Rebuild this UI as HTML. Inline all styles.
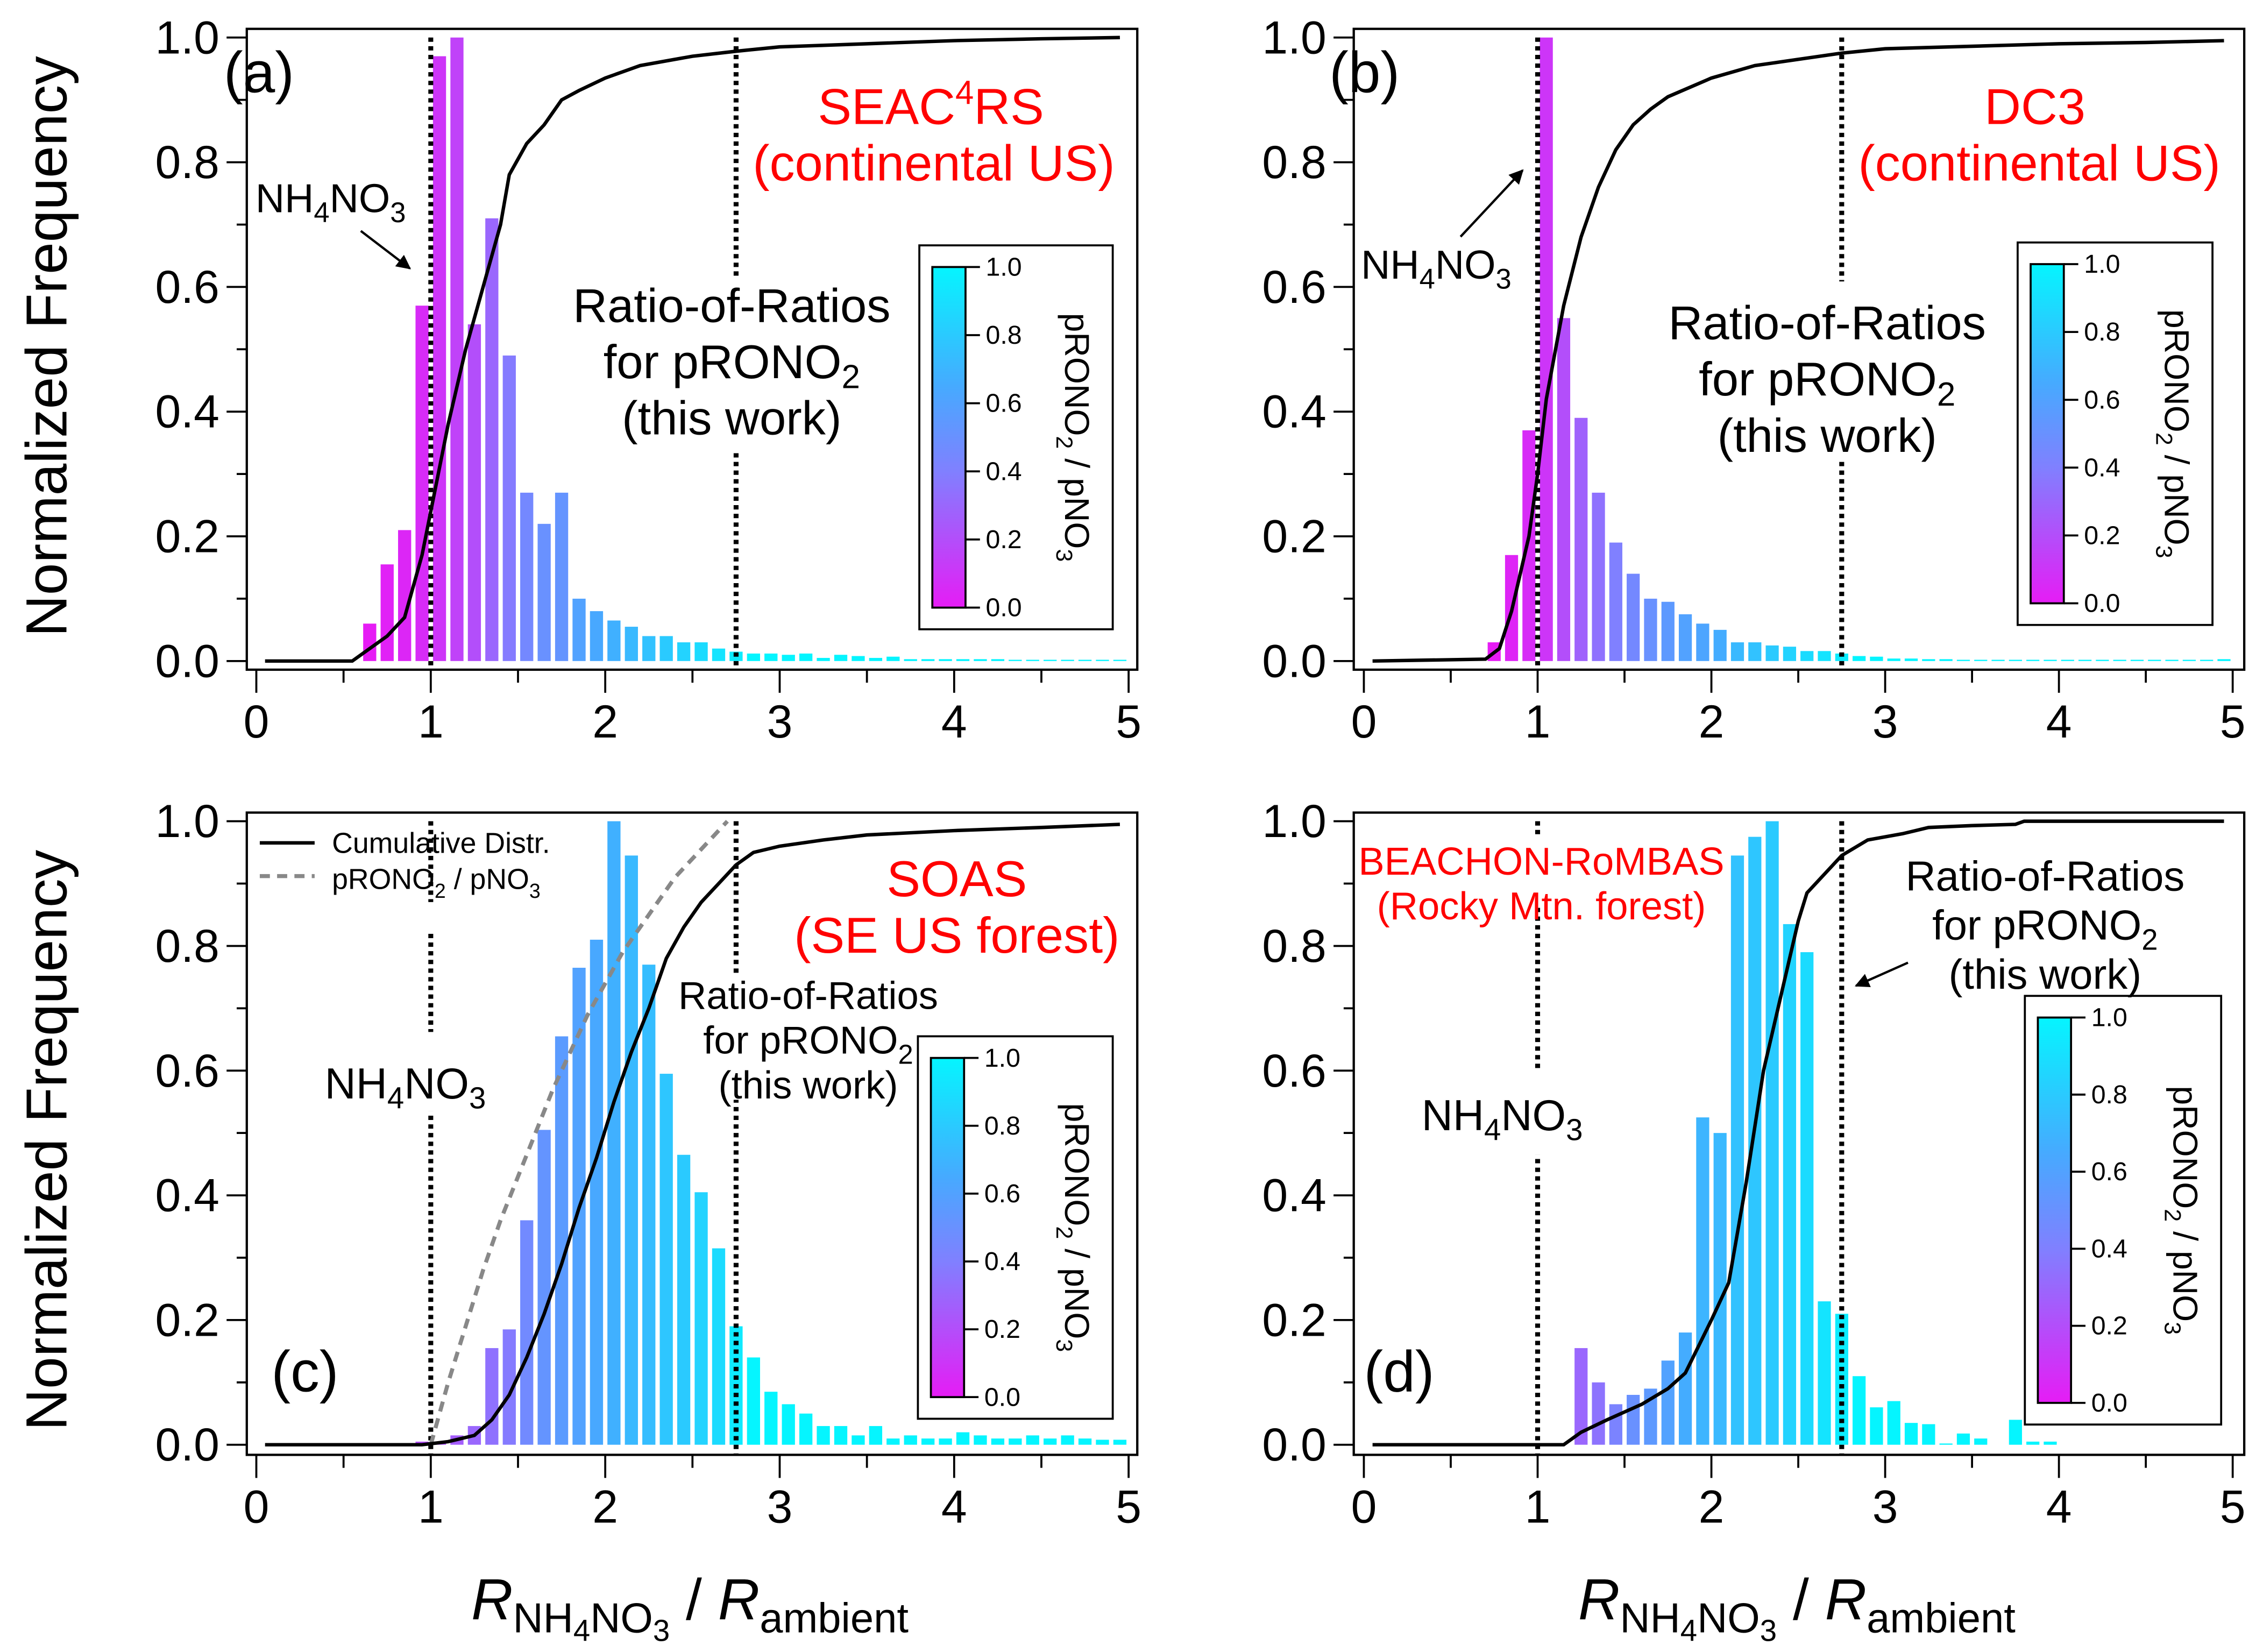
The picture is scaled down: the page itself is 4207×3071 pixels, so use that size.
<!DOCTYPE html>
<html><head><meta charset="utf-8"><style>
html,body{margin:0;padding:0;background:#fff;}
svg{display:block;font-family:"Liberation Sans",Arial,sans-serif;}
</style></head><body>
<svg id="fig" xmlns="http://www.w3.org/2000/svg" width="4207" height="3071" viewBox="0 0 1568 1144.6">
<rect x="0" y="0" width="1568" height="1144.6" fill="#fff"/>
<defs>
<linearGradient id="cbar" x1="0" y1="1" x2="0" y2="0">
<stop offset="0" stop-color="#e61cf5"/><stop offset="0.4" stop-color="#8080ff"/><stop offset="0.65" stop-color="#46aaff"/><stop offset="1" stop-color="#05f5ff"/>
</linearGradient>
<marker id="arr" markerWidth="10" markerHeight="10" refX="9" refY="5" orient="auto" markerUnits="userSpaceOnUse"><path d="M0,0 L10,5 L0,10 Z" fill="#000"/></marker>
</defs>
</svg>
<script>
// ---- data ----
const binCentersA=[0.65,0.75,0.85,0.95,1.05,1.15,1.25,1.35,1.45,1.55,1.65,1.75,1.85,1.95,2.05,2.15,2.25,2.35,2.45,2.55,2.65,2.75,2.85,2.95,3.05,3.15,3.25,3.35,3.45,3.55,3.65,3.75,3.85,3.95,4.05,4.15,4.25,4.35,4.45,4.55,4.65,4.75,4.85,4.95];
const freqA=[0.06,0.155,0.21,0.57,0.97,1.0,0.54,0.71,0.49,0.27,0.22,0.27,0.10,0.08,0.065,0.055,0.04,0.04,0.03,0.03,0.02,0.015,0.012,0.012,0.01,0.012,0.005,0.01,0.008,0.005,0.007,0.003,0.003,0.003,0.003,0.003,0.003,0.002,0.002,0.002,0.002,0.002,0.002,0.002];
const colorA=[0,0.02,0.04,0.06,0.1,0.15,0.2,0.3,0.38,0.45,0.5,0.52,0.6,0.64,0.68,0.72,0.76,0.8,0.84,0.88,0.92,0.96,1,1,1,1,1,1,1,1,1,1,1,1,1,1,1,1,1,1,1,1,1,1];
const cumXA=[0.05,0.55,0.65,0.75,0.85,0.95,1.0,1.1,1.2,1.3,1.4,1.45,1.55,1.65,1.75,1.85,2.0,2.2,2.5,2.75,3.0,3.5,4.0,4.5,4.95];
const cumYA=[0,0,0.02,0.04,0.07,0.17,0.24,0.38,0.5,0.6,0.7,0.78,0.83,0.86,0.9,0.915,0.935,0.955,0.97,0.978,0.985,0.99,0.995,0.998,1.0];

const binCentersB=[0.75,0.85,0.95,1.05,1.15,1.25,1.35,1.45,1.55,1.65,1.75,1.85,1.95,2.05,2.15,2.25,2.35,2.45,2.55,2.65,2.75,2.85,2.95,3.05,3.15,3.25,3.35,3.45,3.55,3.65,3.75,3.85,3.95,4.05,4.15,4.25,4.35,4.45,4.55,4.65,4.75,4.85,4.95];
const freqB=[0.03,0.17,0.37,1.0,0.55,0.39,0.27,0.19,0.14,0.10,0.095,0.075,0.06,0.05,0.03,0.03,0.025,0.023,0.016,0.016,0.012,0.008,0.007,0.004,0.004,0.003,0.003,0.002,0.002,0.002,0.002,0.002,0.002,0.002,0.002,0.002,0.002,0.002,0.002,0.002,0.002,0.002,0.003];
const colorB=[0,0.03,0.06,0.1,0.2,0.28,0.34,0.4,0.45,0.5,0.55,0.6,0.62,0.66,0.72,0.76,0.8,0.84,0.88,0.92,0.96,1,1,1,1,1,1,1,1,1,1,1,1,1,1,1,1,1,1,1,1,1,1];
const cumXB=[0.05,0.7,0.78,0.85,0.95,1.0,1.05,1.15,1.25,1.35,1.45,1.55,1.65,1.75,2.0,2.25,2.5,2.75,3.0,3.5,4.0,4.5,4.95];
const cumYB=[0,0.003,0.02,0.08,0.2,0.3,0.42,0.57,0.68,0.76,0.82,0.86,0.885,0.905,0.935,0.955,0.965,0.975,0.982,0.986,0.99,0.992,0.995];

const binCentersC=[0.95,1.05,1.15,1.25,1.35,1.45,1.55,1.65,1.75,1.85,1.95,2.05,2.15,2.25,2.35,2.45,2.55,2.65,2.75,2.85,2.95,3.05,3.15,3.25,3.35,3.45,3.55,3.65,3.75,3.85,3.95,4.05,4.15,4.25,4.35,4.45,4.55,4.65,4.75,4.85,4.95];
const freqC=[0.005,0.005,0.015,0.03,0.155,0.185,0.36,0.505,0.655,0.765,0.81,1.0,0.945,0.77,0.595,0.465,0.405,0.315,0.19,0.14,0.085,0.065,0.05,0.03,0.03,0.015,0.03,0.01,0.015,0.01,0.01,0.02,0.015,0.01,0.01,0.015,0.01,0.015,0.01,0.008,0.008];
const colorC=[0.2,0.22,0.26,0.3,0.34,0.38,0.46,0.52,0.56,0.6,0.64,0.68,0.72,0.74,0.78,0.8,0.84,0.88,0.95,1,1,1,1,1,1,1,1,1,1,1,1,1,1,1,1,1,1,1,1,1,1];
const cumXC=[0.05,0.95,1.1,1.25,1.35,1.45,1.55,1.65,1.75,1.85,1.95,2.05,2.15,2.25,2.35,2.45,2.55,2.65,2.75,2.85,3.0,3.25,3.5,4.0,4.5,4.95];
const cumYC=[0,0.0,0.005,0.015,0.04,0.08,0.14,0.21,0.29,0.38,0.46,0.55,0.63,0.7,0.78,0.83,0.87,0.9,0.93,0.95,0.96,0.97,0.978,0.985,0.99,0.995];
const ratioXC=[1.0,1.1,1.2,1.3,1.4,1.5,1.6,1.7,1.8,1.9,2.0,2.1,2.2,2.3,2.4,2.5,2.6,2.7];
const ratioYC=[0,0.1,0.19,0.28,0.36,0.43,0.5,0.57,0.63,0.69,0.74,0.79,0.83,0.87,0.91,0.94,0.97,1.0];

const binCentersD=[1.25,1.35,1.45,1.55,1.65,1.75,1.85,1.95,2.05,2.15,2.25,2.35,2.45,2.55,2.65,2.75,2.85,2.95,3.05,3.15,3.25,3.35,3.45,3.55,3.65,3.75,3.85,3.95];
const freqD=[0.155,0.1,0.065,0.08,0.09,0.135,0.18,0.525,0.5,0.945,0.975,1.0,0.835,0.79,0.23,0.21,0.11,0.06,0.07,0.035,0.033,0.002,0.018,0.01,0.0,0.04,0.005,0.005];
const colorD=[0.3,0.35,0.42,0.5,0.55,0.6,0.66,0.7,0.72,0.76,0.78,0.8,0.84,0.88,0.92,0.96,1,1,1,1,1,1,1,1,1,1,1,1];
const cumXD=[0.05,1.15,1.25,1.4,1.6,1.75,1.85,2.0,2.1,2.2,2.3,2.4,2.5,2.55,2.7,2.75,2.9,3.1,3.25,3.5,3.75,3.8,4.95];
const cumYD=[0,0,0.02,0.04,0.065,0.09,0.115,0.2,0.26,0.42,0.6,0.72,0.84,0.885,0.93,0.945,0.97,0.98,0.99,0.993,0.995,1.0,1.0];

const xTicks=[0,1,2,3,4,5];
const xTickLabels=["0","1","2","3","4","5"];
const yTicks=[0,0.2,0.4,0.6,0.8,1.0];
const yTickLabels=["0.0","0.2","0.4","0.6","0.8","1.0"];
const cbTicks=[0,0.2,0.4,0.6,0.8,1.0];
const cbTickLabels=["0.0","0.2","0.4","0.6","0.8","1.0"];

// ---- helpers ----
const NS="http://www.w3.org/2000/svg";
const svg=document.getElementById('fig');
function el(tag,attrs,parent){const e=document.createElementNS(NS,tag);for(const k in attrs)e.setAttribute(k,attrs[k]);(parent||svg).appendChild(e);return e;}
function cmap(v){
  const st=[[0,[230,28,245]],[0.4,[128,128,255]],[0.65,[70,170,255]],[1,[5,245,255]]];
  for(let i=0;i<st.length-1;i++){if(v<=st[i+1][0]){const t=(v-st[i][0])/(st[i+1][0]-st[i][0]);const a=st[i][1],b=st[i+1][1];return 'rgb('+a.map((c,j)=>Math.round(c+(b[j]-c)*t)).join(',')+')';}}
  return 'rgb(5,245,255)';
}
function panel(P){
  const g=el('g',{});
  
  
  const sx=x=>P.X0+(P.X5-P.X0)*x/5;
  const sy=y=>P.Y0-(P.Y0-P.Y1)*y;
  const bw=(P.X5-P.X0)/5*0.075;
  P.bx.forEach((c,i)=>{
    const h=P.by[i]; if(h<=0) return;
    const r=el('rect',{x:sx(c)-bw/2,y:sy(h),width:bw,height:Math.max(sy(0)-sy(h),0.8),fill:cmap(P.bc[i])},g);
    
    
  });
  const fr=el('rect',{x:P.fl,y:P.ft,width:P.fr-P.fl,height:P.fb-P.ft,fill:'none',stroke:'#000','stroke-width':1.6},g);
  
  
  for(let k=0;k<=10;k++){const x=sx(k*0.5);el('line',{x1:x,y1:P.fb,x2:x,y2:P.fb+(k%2?9:16),stroke:'#000','stroke-width':1.4},g);}
  xTicks.forEach((v,i)=>{const t=el('text',{x:sx(v),y:P.fb+47,'font-size':32,'text-anchor':'middle'},g);t.textContent=xTickLabels[i];
    
    });
  for(let k=0;k<=10;k++){const y=sy(k*0.1);el('line',{x1:P.fl,y1:y,x2:P.fl-(k%2?7:14),y2:y,stroke:'#000','stroke-width':1.4},g);}
  yTicks.forEach((v,i)=>{const t=el('text',{x:P.fl-19,y:sy(v)+11,'font-size':32,'text-anchor':'end'},g);t.textContent=yTickLabels[i];
    
    });
  [1,2.75].forEach(v=>{const l=el('line',{x1:sx(v),y1:sy(1.0),x2:sx(v),y2:P.fb,stroke:'#000','stroke-width':3.4,'stroke-dasharray':'3,3'},g);
    
    });
  (P.masks||[]).forEach(m=>el('rect',{x:m[0],y:m[1],width:m[2],height:m[3],fill:'#fff'},g));
  if(P.rx){const d=P.rx.map((x,i)=>(i?'L':'M')+sx(x)+','+sy(P.ry[i])).join(' ');
    const p=el('path',{d:d,fill:'none',stroke:'#888','stroke-width':2.8,'stroke-dasharray':'7,5'},g);
    
    }
  const d=P.cx.map((x,i)=>(i?'L':'M')+sx(x)+','+sy(P.cy[i])).join(' ');
  const cp=el('path',{d:d,fill:'none',stroke:'#000','stroke-width':2.4},g);
  
  
  const cb=P.cb;
  const cbg=el('g',{},g);
  
  
  el('rect',{x:cb[0],y:cb[1],width:cb[2],height:cb[3],fill:'#fff',stroke:'#000','stroke-width':1.4},cbg);
  const bx=cb[0]+9,by=cb[1]+15,bwid=23,bh=cb[3]-30;
  el('rect',{x:bx,y:by,width:bwid,height:bh,fill:'url(#cbar)',stroke:'#000','stroke-width':1.4},cbg);
  cbTicks.forEach((v,i)=>{const y=by+bh-bh*v;el('line',{x1:bx+bwid,y1:y,x2:bx+bwid+10,y2:y,stroke:'#000','stroke-width':1.4},cbg);
    const t=el('text',{x:bx+bwid+14,y:y+6,'font-size':18},cbg);t.textContent=cbTickLabels[i];});
  const tt=el('text',{transform:'translate('+(cb[0]+cb[2]-33)+','+(cb[1]+cb[3]/2)+') rotate(90)','font-size':24,'text-anchor':'middle'},cbg);
  tt.innerHTML='pRONO<tspan font-size="16" dy="6">2</tspan><tspan dy="-6"> / pNO</tspan><tspan font-size="16" dy="6">3</tspan>';
  return {g,sx,sy};
}
function txt(x,y,size,html,opts,name){const t=el('text',Object.assign({x:x,y:y,'font-size':size},opts||{}));t.innerHTML=html;
  
  return t;}
const sub=(s,sz)=>'<tspan font-size="'+sz+'" dy="7">'+s+'</tspan><tspan dy="-7">';
function nh(x,y,size,anchor){return txt(x,y,size,'NH'+sub('4',size*0.7)+'NO</tspan>'+sub('3',size*0.7)+'</tspan>',{'text-anchor':anchor||'start'},'nh4no3-label');}
function ror(cx,y,size,gap,name){txt(cx,y,size,'Ratio-of-Ratios',{'text-anchor':'middle'},name);
  txt(cx,y+gap,size,'for pRONO'+sub('2',size*0.7)+'</tspan>',{'text-anchor':'middle'},name);
  txt(cx,y+2*gap,size,'(this work)',{'text-anchor':'middle'},name);}

// ---- panels ----
panel({name:'panel-a',X0:177.6,X5:782,Y0:458,Y1:26,fl:171,fr:788,ft:20,fb:464,
  bx:binCentersA,by:freqA,bc:colorA,cx:cumXA,cy:cumYA,cb:[637,170,134,266],
  masks:[[490,192,40,120]]});
panel({name:'panel-b',X0:945,X5:1547,Y0:458,Y1:26,fl:938,fr:1555,ft:20,fb:464,
  bx:binCentersB,by:freqB,bc:colorB,cx:cumXB,cy:cumYB,cb:[1398,168,135,265],
  masks:[[1256,195,36,125]]});
panel({name:'panel-c',X0:177.6,X5:782,Y0:1001,Y1:569,fl:171,fr:788,ft:563,fb:1008,
  bx:binCentersC,by:freqC,bc:colorC,cx:cumXC,cy:cumYC,rx:ratioXC,ry:ratioYC,cb:[636,718,135,265],
  masks:[[286,625,24,22],[286,715,24,55],[496,676,26,86]]});
panel({name:'panel-d',X0:945,X5:1547,Y0:1001,Y1:569,fl:938,fr:1555,ft:563,fb:1008,
  bx:binCentersD,by:freqD,bc:colorD,cx:cumXD,cy:cumYD,cb:[1403,690,136,297],
  masks:[[1052,580,24,48],[1052,740,24,60]]});

// ---- annotations ----
txt(155,64,40,'(a)',{},'panel-label-a');
txt(921,64,40,'(b)',{},'panel-label-b');
txt(188,964,40,'(c)',{},'panel-label-c');
txt(945,964,40,'(d)',{},'panel-label-d');

txt(645,86,35,'SEAC<tspan font-size="23" dy="-14">4</tspan><tspan dy="14">RS</tspan>',{fill:'#f00','text-anchor':'middle'},'campaign-title-a');
txt(647,125,35,'(continental US)',{fill:'#f00','text-anchor':'middle'},'campaign-subtitle-a');
txt(1410,86,35,'DC3',{fill:'#f00','text-anchor':'middle'},'campaign-title-b');
txt(1413,125,35,'(continental US)',{fill:'#f00','text-anchor':'middle'},'campaign-subtitle-b');
txt(663,621,35,'SOAS',{fill:'#f00','text-anchor':'middle'},'campaign-title-c');
txt(663,660,35,'(SE US forest)',{fill:'#f00','text-anchor':'middle'},'campaign-subtitle-c');
txt(1068,606,27,'BEACHON-RoMBAS',{fill:'#f00','text-anchor':'middle'},'campaign-title-d');
txt(1068,637,27,'(Rocky Mtn. forest)',{fill:'#f00','text-anchor':'middle'},'campaign-subtitle-d');

nh(177,147,28); el('line',{x1:250,y1:160,x2:284,y2:186,stroke:'#000','stroke-width':1.6,'marker-end':'url(#arr)'});
nh(943,193,28); el('line',{x1:1012,y1:164,x2:1055,y2:118,stroke:'#000','stroke-width':1.6,'marker-end':'url(#arr)'});
nh(225,761,30); nh(985,783,30);

ror(507,223,33,39,'ratio-of-ratios-label-a');
ror(1266,235,33,39,'ratio-of-ratios-label-b');
ror(560,699,27,31,'ratio-of-ratios-label-c');
ror(1417,617,29,34,'ratio-of-ratios-label-d');
el('line',{x1:1322,y1:667,x2:1286,y2:683,stroke:'#000','stroke-width':1.6,'marker-end':'url(#arr)'});

// legend in (c)
el('line',{x1:180,y1:584,x2:218,y2:584,stroke:'#000','stroke-width':2.4});
el('line',{x1:180,y1:607,x2:218,y2:607,stroke:'#888','stroke-width':2.8,'stroke-dasharray':'7,5'});
txt(230,591,20,'Cumulative Distr.',{},'legend-cumulative');
txt(230,616,20,'pRONO<tspan font-size="14" dy="6">2</tspan><tspan dy="-6"> / pNO</tspan><tspan font-size="14" dy="6">3</tspan>',{},'legend-ratio');

// axis titles
[240,790].forEach(cy=>{txt(0,0,40,'Normalized Frequency',{transform:'translate(46,'+cy+') rotate(-90)','text-anchor':'middle'},'y-axis-title');});
[478,1245].forEach(cx=>{txt(cx,1122,40,'<tspan font-style="italic">R</tspan><tspan font-size="29" dy="9">NH</tspan><tspan font-size="21" dy="6">4</tspan><tspan font-size="29" dy="-6">NO</tspan><tspan font-size="21" dy="6">3</tspan><tspan dy="-15"> / </tspan><tspan font-style="italic">R</tspan><tspan font-size="29" dy="9">ambient</tspan>',{'text-anchor':'middle'},'x-axis-title');});
</script>
</body></html>
